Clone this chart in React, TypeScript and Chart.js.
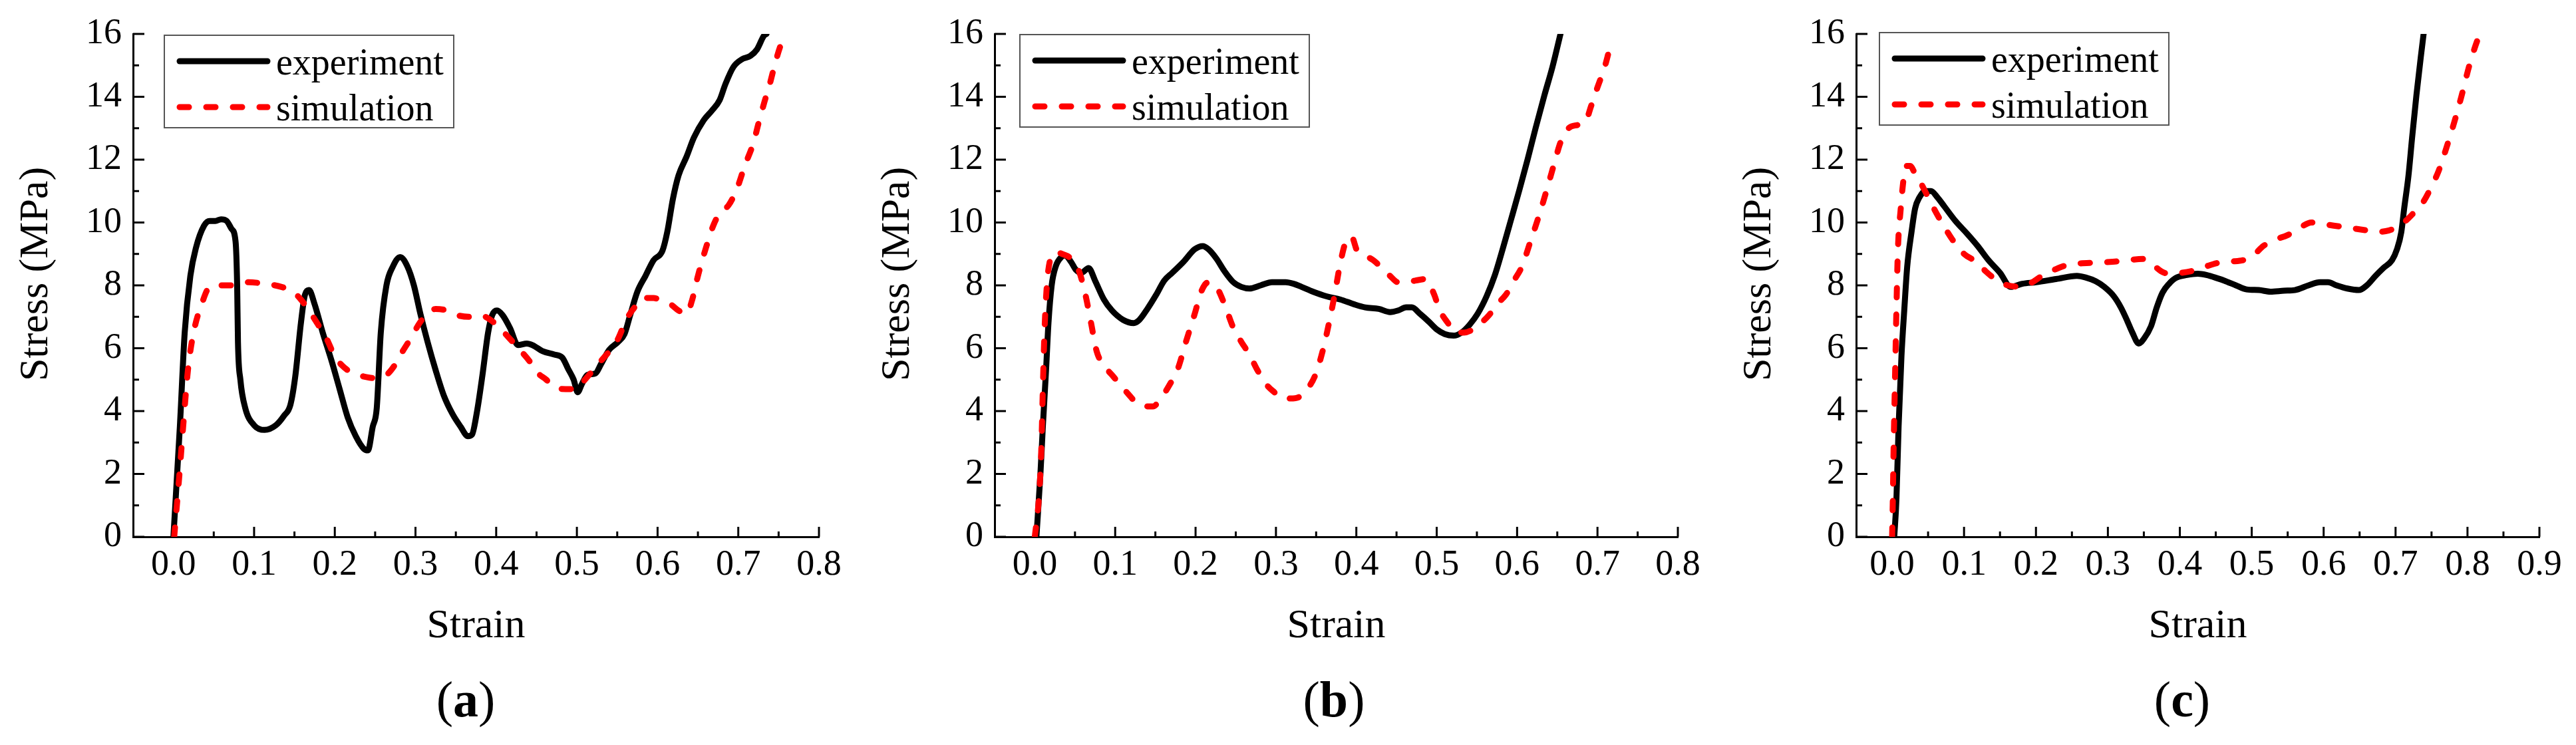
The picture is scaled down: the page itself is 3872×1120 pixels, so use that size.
import { useEffect, useRef } from "react"
import { Chart, registerables } from "chart.js"

Chart.register(...registerables)

const SERIF = "'Liberation Serif'"
Chart.defaults.font.family = SERIF

// (a) experiment / simulation
const expStrainA = [0, 0.008, 0.014, 0.021, 0.028, 0.038, 0.045, 0.052, 0.059, 0.066, 0.072, 0.077, 0.079, 0.08, 0.083, 0.089, 0.1, 0.113, 0.127, 0.137, 0.145, 0.151, 0.158, 0.163, 0.168, 0.175, 0.185, 0.196, 0.206, 0.216, 0.226, 0.236, 0.241, 0.247, 0.252, 0.257, 0.264, 0.272, 0.281, 0.29, 0.298, 0.306, 0.315, 0.325, 0.335, 0.346, 0.356, 0.365, 0.37, 0.376, 0.383, 0.39, 0.395, 0.401, 0.408, 0.417, 0.427, 0.438, 0.445, 0.458, 0.472, 0.482, 0.489, 0.496, 0.501, 0.506, 0.513, 0.523, 0.53, 0.54, 0.551, 0.559, 0.566, 0.575, 0.585, 0.595, 0.606, 0.612, 0.619, 0.626, 0.636, 0.645, 0.657, 0.667, 0.677, 0.684, 0.694, 0.705, 0.715, 0.723, 0.732, 0.735]
const expStressA = [0, 3.5, 6.5, 8.3, 9.2, 9.9, 10.05, 10.05, 10.1, 10.05, 9.8, 9.4, 8.0, 6.2, 5.0, 4.1, 3.55, 3.4, 3.55, 3.85, 4.2, 5.1, 6.8, 7.7, 7.85, 7.4, 6.5, 5.6, 4.7, 3.8, 3.2, 2.8, 2.75, 3.5, 4.1, 6.5, 8.0, 8.6, 8.9, 8.6, 8.0, 7.1, 6.2, 5.3, 4.5, 3.9, 3.5, 3.2, 3.25, 3.95, 5.15, 6.5, 7.05, 7.2, 7.05, 6.65, 6.1, 6.15, 6.1, 5.9, 5.8, 5.7, 5.35, 5.0, 4.6, 4.85, 5.15, 5.2, 5.5, 5.95, 6.2, 6.45, 7.05, 7.8, 8.3, 8.8, 9.1, 9.7, 10.75, 11.5, 12.1, 12.7, 13.25, 13.55, 13.9, 14.4, 14.95, 15.2, 15.3, 15.5, 15.95, 16.0]
const simStrainA = [0.001, 0.0075, 0.013, 0.018, 0.025, 0.035, 0.045, 0.059, 0.072, 0.093, 0.113, 0.134, 0.148, 0.158, 0.168, 0.178, 0.189, 0.199, 0.209, 0.223, 0.236, 0.25, 0.264, 0.274, 0.284, 0.295, 0.305, 0.315, 0.325, 0.339, 0.352, 0.366, 0.38, 0.393, 0.404, 0.417, 0.431, 0.441, 0.452, 0.462, 0.472, 0.486, 0.499, 0.51, 0.52, 0.53, 0.54, 0.551, 0.561, 0.57, 0.582, 0.595, 0.606, 0.616, 0.626, 0.636, 0.643, 0.65, 0.66, 0.669, 0.677, 0.688, 0.698, 0.708, 0.719, 0.725, 0.732, 0.739, 0.745, 0.752, 0.759]
const simStressA = [0, 2, 3.8, 5.3, 6.5, 7.4, 7.95, 8.0, 8.0, 8.1, 8.05, 7.95, 7.8, 7.55, 7.2, 6.8, 6.35, 5.8, 5.45, 5.2, 5.1, 5.05, 5.15, 5.45, 5.9, 6.35, 6.8, 7.1, 7.25, 7.2, 7.05, 7.0, 7.05, 6.9, 6.65, 6.3, 5.9, 5.6, 5.2, 5.0, 4.75, 4.7, 4.7, 5.0, 5.3, 5.6, 5.9, 6.3, 6.9, 7.25, 7.6, 7.6, 7.5, 7.4, 7.2, 7.1, 7.55, 8.3, 9.2, 9.9, 10.3, 10.55, 11.05, 11.8, 12.55, 13.15, 13.8, 14.4, 15.0, 15.6, 16.0]

// (b)
const expStrainB = [0.002, 0.007, 0.01, 0.014, 0.017, 0.021, 0.026, 0.033, 0.038, 0.045, 0.051, 0.058, 0.067, 0.075, 0.086, 0.096, 0.11, 0.123, 0.13, 0.14, 0.151, 0.161, 0.171, 0.185, 0.199, 0.209, 0.216, 0.226, 0.236, 0.247, 0.257, 0.267, 0.281, 0.295, 0.312, 0.322, 0.332, 0.346, 0.363, 0.38, 0.397, 0.411, 0.428, 0.442, 0.452, 0.462, 0.469, 0.479, 0.49, 0.5, 0.51, 0.521, 0.531, 0.541, 0.551, 0.562, 0.572, 0.582, 0.592, 0.603, 0.613, 0.623, 0.634, 0.644, 0.654]
const expStressB = [0, 2, 3.5, 5.3, 6.8, 8.0, 8.6, 8.9, 8.95, 8.75, 8.5, 8.4, 8.55, 8.15, 7.55, 7.2, 6.9, 6.8, 6.9, 7.25, 7.7, 8.15, 8.4, 8.75, 9.15, 9.25, 9.15, 8.85, 8.45, 8.1, 7.95, 7.9, 8.0, 8.1, 8.1, 8.05, 7.95, 7.8, 7.65, 7.55, 7.4, 7.3, 7.25, 7.15, 7.2, 7.3, 7.3, 7.1, 6.85, 6.6, 6.45, 6.4, 6.5, 6.75, 7.1, 7.65, 8.3, 9.15, 10.05, 11.05, 12.0, 13.0, 14.05, 14.95, 16.0]
const simStrainB = [0.0, 0.005, 0.008, 0.01, 0.012, 0.015, 0.019, 0.026, 0.034, 0.045, 0.055, 0.063, 0.07, 0.077, 0.086, 0.096, 0.106, 0.116, 0.127, 0.137, 0.147, 0.158, 0.168, 0.178, 0.188, 0.199, 0.207, 0.216, 0.226, 0.236, 0.247, 0.257, 0.267, 0.277, 0.288, 0.298, 0.308, 0.318, 0.329, 0.339, 0.349, 0.358, 0.366, 0.373, 0.38, 0.387, 0.394, 0.401, 0.411, 0.421, 0.432, 0.442, 0.452, 0.462, 0.473, 0.486, 0.497, 0.503, 0.514, 0.524, 0.534, 0.545, 0.555, 0.565, 0.575, 0.586, 0.596, 0.606, 0.616, 0.627, 0.637, 0.647, 0.654, 0.664, 0.675, 0.685, 0.692, 0.7, 0.709, 0.716, 0.719]
const simStressB = [0, 1.2, 2.7, 4.7, 6.5, 8.0, 8.8, 9.05, 9.0, 8.85, 8.45, 7.7, 6.8, 5.9, 5.45, 5.15, 4.85, 4.55, 4.25, 4.15, 4.15, 4.45, 4.85, 5.35, 6.2, 7.1, 7.8, 8.1, 7.95, 7.4, 6.65, 6.2, 5.8, 5.3, 4.85, 4.6, 4.4, 4.4, 4.45, 4.7, 5.15, 5.9, 6.8, 7.7, 8.7, 9.4, 9.55, 9.1, 8.95, 8.8, 8.55, 8.3, 8.1, 8.1, 8.15, 8.2, 7.7, 7.25, 6.8, 6.5, 6.5, 6.6, 6.8, 7.05, 7.4, 7.7, 8.15, 8.6, 9.35, 10.2, 11.05, 11.95, 12.55, 13.0, 13.1, 13.2, 13.7, 14.3, 14.95, 15.6, 15.8]

// (c)
const expStrainC = [0.003, 0.006, 0.009, 0.013, 0.017, 0.021, 0.027, 0.032, 0.038, 0.046, 0.054, 0.063, 0.073, 0.088, 0.104, 0.119, 0.134, 0.15, 0.165, 0.181, 0.2, 0.228, 0.257, 0.269, 0.283, 0.295, 0.308, 0.318, 0.326, 0.334, 0.343, 0.35, 0.36, 0.368, 0.376, 0.385, 0.394, 0.41, 0.425, 0.437, 0.453, 0.462, 0.478, 0.493, 0.51, 0.526, 0.545, 0.56, 0.579, 0.595, 0.606, 0.618, 0.633, 0.649, 0.66, 0.672, 0.683, 0.695, 0.702, 0.708, 0.712, 0.718, 0.723, 0.729, 0.735, 0.739]
const expStressC = [0, 1.2, 3.5, 5.75, 7.25, 8.6, 9.7, 10.45, 10.8, 11.0, 11.0, 10.8, 10.5, 10.05, 9.65, 9.25, 8.8, 8.4, 7.95, 8.05, 8.1, 8.2, 8.3, 8.25, 8.13, 7.95, 7.66, 7.3, 6.92, 6.5, 6.15, 6.3, 6.7, 7.3, 7.77, 8.05, 8.23, 8.33, 8.37, 8.33, 8.22, 8.15, 8.0, 7.87, 7.85, 7.8, 7.83, 7.85, 8.0, 8.1, 8.1, 8.0, 7.9, 7.85, 8.0, 8.3, 8.55, 8.8, 9.15, 9.7, 10.45, 11.5, 12.7, 14.05, 15.25, 16.0]
const simStrainC = [0.0, 0.001, 0.002, 0.004, 0.006, 0.008, 0.012, 0.015, 0.019, 0.025, 0.032, 0.04, 0.048, 0.058, 0.069, 0.084, 0.1, 0.117, 0.13, 0.144, 0.161, 0.18, 0.195, 0.21, 0.226, 0.244, 0.262, 0.281, 0.299, 0.317, 0.335, 0.351, 0.363, 0.374, 0.385, 0.402, 0.419, 0.436, 0.454, 0.471, 0.488, 0.502, 0.516, 0.532, 0.55, 0.568, 0.583, 0.599, 0.614, 0.63, 0.645, 0.66, 0.675, 0.691, 0.702, 0.714, 0.725, 0.737, 0.748, 0.76, 0.771, 0.783, 0.792, 0.802, 0.81, 0.817]
const simStressC = [0, 1.2, 2.7, 5.0, 7.25, 9.1, 10.45, 11.2, 11.8, 11.8, 11.55, 11.25, 10.9, 10.45, 10.0, 9.45, 9.0, 8.75, 8.45, 8.19, 8.0, 7.96, 8.1, 8.33, 8.5, 8.65, 8.7, 8.72, 8.74, 8.77, 8.82, 8.84, 8.65, 8.45, 8.37, 8.4, 8.47, 8.6, 8.72, 8.76, 8.8, 8.95, 9.25, 9.45, 9.6, 9.85, 10.0, 9.95, 9.9, 9.85, 9.8, 9.75, 9.7, 9.75, 9.85, 10.05, 10.3, 10.6, 11.05, 11.65, 12.4, 13.3, 14.05, 14.95, 15.55, 16.0]

const stressTicks = [0, 2, 4, 6, 8, 10, 12, 14, 16]
const strainTicksAB = [0, 0.1, 0.2, 0.3, 0.4, 0.5, 0.6, 0.7, 0.8]
const strainTicksC = [0, 0.1, 0.2, 0.3, 0.4, 0.5, 0.6, 0.7, 0.8, 0.9]
const seriesNames = ["experiment", "simulation"]
const xTitle = "Strain"
const yTitle = "Stress (MPa)"

// page geometry (px)
const TOP = 51
const BOTTOM = 807
const CANVAS_H = 1000
const AXIS_W = 200
const PAD_R = 60

interface PanelDef {
  letter: string
  left: number
  right: number
  xMax: number
  xTicks: number[]
  exp: [number[], number[]]
  sim: [number[], number[]]
  legendDx: number
  legendY: number
  labelX: number
}

const panels: PanelDef[] = [
  { letter: "a", left: 200, right: 1231, xMax: 0.8, xTicks: strainTicksAB, exp: [expStrainA, expStressA], sim: [simStrainA, simStressA], legendDx: 47, legendY: 53, labelX: 700 },
  { letter: "b", left: 1495, right: 2522, xMax: 0.8, xTicks: strainTicksAB, exp: [expStrainB, expStressB], sim: [simStrainB, simStressB], legendDx: 38, legendY: 52, labelX: 2005 },
  { letter: "c", left: 2790, right: 3817, xMax: 0.9, xTicks: strainTicksC, exp: [expStrainC, expStressC], sim: [simStrainC, simStressC], legendDx: 35, legendY: 49, labelX: 3280 },
]

// inward ticks, rotated y title and boxed legend
function framePlugin(panel: PanelDef) {
  return {
    id: "frame" + panel.letter,
    beforeDatasetsDraw(chart: any) {
      const { ctx, chartArea, scales } = chart
      const { left, bottom } = chartArea
      const seg = (x1: number, y1: number, x2: number, y2: number) => {
        ctx.beginPath()
        ctx.moveTo(x1, y1)
        ctx.lineTo(x2, y2)
        ctx.stroke()
      }
      ctx.save()
      ctx.strokeStyle = "#000"
      ctx.lineWidth = 3
      const xs = panel.xTicks
      xs.forEach((v, i) => {
        const px = scales.x.getPixelForValue(v)
        seg(px, bottom, px, bottom - 15)
        if (i < xs.length - 1) {
          const pm = scales.x.getPixelForValue((v + xs[i + 1]) / 2)
          seg(pm, bottom, pm, bottom - 8)
        }
      })
      stressTicks.forEach((v, i) => {
        const py = scales.y.getPixelForValue(v)
        seg(left, py, left + 17, py)
        if (i < stressTicks.length - 1) {
          const pm = scales.y.getPixelForValue((v + stressTicks[i + 1]) / 2)
          seg(left, pm, left + 9, pm)
        }
      })
      ctx.translate(left - 145, 412)
      ctx.rotate(-Math.PI / 2)
      ctx.fillStyle = "#000"
      ctx.font = `62px ${SERIF}`
      ctx.textAlign = "center"
      ctx.textBaseline = "middle"
      ctx.fillText(yTitle, 0, 0)
      ctx.restore()
    },
    afterDraw(chart: any) {
      const { ctx, chartArea } = chart
      const bx = chartArea.left + panel.legendDx
      const by = panel.legendY
      ctx.save()
      ctx.fillStyle = "#fff"
      ctx.fillRect(bx, by, 435, 139)
      ctx.strokeStyle = "#555"
      ctx.lineWidth = 2
      ctx.strokeRect(bx, by, 435, 139)
      chart.data.datasets.forEach((ds: any, i: number) => {
        const ly = by + 39 + i * 69
        ctx.beginPath()
        ctx.setLineDash(ds.borderDash || [])
        ctx.lineCap = "round"
        ctx.lineWidth = 9
        ctx.strokeStyle = ds.borderColor
        ctx.moveTo(bx + 23, ly)
        ctx.lineTo(bx + 155, ly)
        ctx.stroke()
        ctx.setLineDash([])
        ctx.fillStyle = "#000"
        ctx.font = `56px ${SERIF}`
        ctx.textAlign = "left"
        ctx.textBaseline = "alphabetic"
        ctx.fillText(ds.label, bx + 168, ly + 20)
      })
      ctx.restore()
    },
  }
}

function StressStrainPanel({ panel }: { panel: PanelDef }) {
  const canvasRef = useRef<HTMLCanvasElement>(null)

  useEffect(() => {
    if (!canvasRef.current) return
    const toPoints = (xs: number[], ys: number[]) => xs.map((x, i) => ({ x, y: ys[i] }))

    const chart = new Chart(canvasRef.current, {
      type: "line",
      data: {
        datasets: [
          {
            label: seriesNames[0],
            data: toPoints(panel.exp[0], panel.exp[1]),
            borderColor: "#000000",
            borderWidth: 9,
            order: 1,
          },
          {
            label: seriesNames[1],
            data: toPoints(panel.sim[0], panel.sim[1]),
            borderColor: "#ff0000",
            borderWidth: 9,
            borderDash: [14, 26],
            order: 0,
          },
        ],
      },
      options: {
        responsive: false,
        animation: false,
        layout: { padding: { top: TOP, right: PAD_R, bottom: 0, left: 0 } },
        elements: {
          point: { radius: 0 },
          line: { cubicInterpolationMode: "monotone", borderCapStyle: "round", borderJoinStyle: "round" },
        },
        plugins: { legend: { display: false }, tooltip: { enabled: false } },
        scales: {
          x: {
            type: "linear",
            min: -0.05,
            max: panel.xMax,
            afterFit: (s: any) => {
              s.height = CANVAS_H - BOTTOM
            },
            afterBuildTicks: (s: any) => {
              s.ticks = panel.xTicks.map((value) => ({ value }))
            },
            grid: { display: false, drawTicks: false },
            border: { display: true, color: "#000", width: 3 },
            ticks: {
              color: "#000",
              font: { family: SERIF, size: 54 },
              padding: 10,
              maxRotation: 0,
              autoSkip: false,
              callback: (v: any) => Number(v).toFixed(1),
            },
            title: {
              display: true,
              text: xTitle,
              color: "#000",
              font: { family: SERIF, size: 62 },
              padding: { top: 0, bottom: 21 },
            },
          },
          y: {
            type: "linear",
            min: 0,
            max: 16,
            afterFit: (s: any) => {
              s.width = AXIS_W
            },
            afterBuildTicks: (s: any) => {
              s.ticks = stressTicks.map((value) => ({ value }))
            },
            grid: { display: false, drawTicks: false },
            border: { display: true, color: "#000", width: 3 },
            ticks: {
              color: "#000",
              font: { family: SERIF, size: 54 },
              padding: 17,
              callback: (v: any) => String(v),
            },
          },
        },
      } as any,
      plugins: [framePlugin(panel)],
    })

    return () => {
      chart.destroy()
    }
  }, [panel])

  const width = panel.right - panel.left + AXIS_W + PAD_R
  return (
    <canvas
      ref={canvasRef}
      width={width}
      height={CANVAS_H}
      style={{ position: "absolute", left: panel.left - AXIS_W, top: 0 }}
    />
  )
}

export default function App() {
  useEffect(() => {
    document.body.style.margin = "0"
  }, [])

  return (
    <div style={{ position: "absolute", left: 0, top: 0, width: 3872, height: 1120, background: "#fff", overflow: "hidden" }}>
      {panels.map((p) => (
        <StressStrainPanel key={p.letter} panel={p} />
      ))}
      {panels.map((p) => (
        <div
          key={"label-" + p.letter}
          style={{
            position: "absolute",
            left: p.labelX - 100,
            width: 200,
            top: 1013,
            textAlign: "center",
            fontFamily: SERIF,
            fontSize: 76,
            lineHeight: "76px",
            color: "#000",
          }}
        >
          (<b>{p.letter}</b>)
        </div>
      ))}
    </div>
  )
}
